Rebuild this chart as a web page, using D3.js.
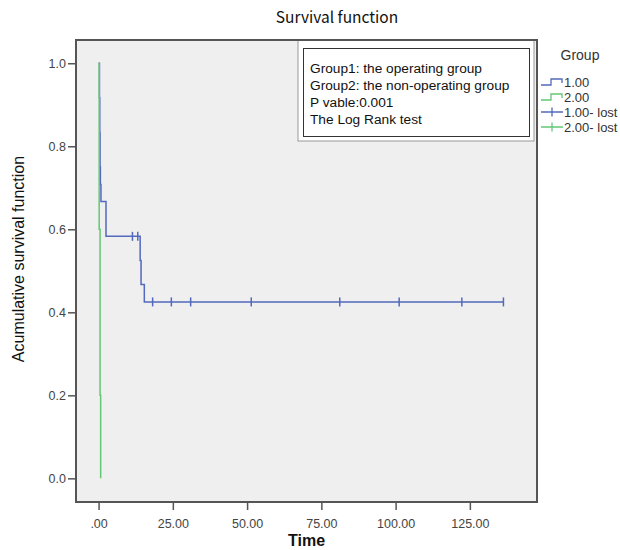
<!DOCTYPE html>
<meta charset="utf-8">
<head>
<script src="https://d3js.org/d3.v7.min.js"></script>
</head>
<style>
    html, body { margin: 0; background: white; }
    text { font-family: "Liberation Sans", Arial, sans-serif; fill: #333; }
    .title { font-family: "Noto Sans CJK SC", "Noto Sans", sans-serif; font-size: 15.5px; fill: #111; }
    .axis-title { font-size: 16px; fill: #111; }
    .tick-label { font-size: 12.5px; fill: #444; }
    .note { font-size: 13.7px; fill: #111; }
    .legend-text { font-size: 13px; fill: #333; }
</style>
<body>
<div id="chart"></div>
<script>
// group 1 (operating) survival steps
var group1Times = [0, 0.3, 0.4, 0.5, 0.6, 0.8, 2.5, 14.0, 14.3, 15.4, 136.3];
var group1Surv  = [1.0, 0.917, 0.833, 0.75, 0.708, 0.667, 0.583, 0.525, 0.467, 0.425, 0.425];
// group 1 censored ("lost") times
var group1Lost  = [11.4, 13.2, 18.2, 24.5, 31.0, 51.4, 81.2, 101.2, 122.3, 136.3];

// group 2 (non-operating) survival steps
var group2Times = [0, 0.2, 0.5, 0.7];
var group2Surv  = [1.0, 0.6, 0.2, 0.0];

var xTicks = [0, 25, 50, 75, 100, 125];
var xTickLabels = [".00", "25.00", "50.00", "75.00", "100.00", "125.00"];
var yTicks = [0, 0.2, 0.4, 0.6, 0.8, 1.0];
var yTickLabels = ["0.0", "0.2", "0.4", "0.6", "0.8", "1.0"];

var noteLines = ["Group1: the operating group", "Group2: the non-operating group", "P vable:0.001", "The Log Rank test"];
var legendLabels = ["1.00", "2.00", "1.00- lost", "2.00- lost"];

var blue = "#5369bd", green = "#63c874";

var margin = {top: 40, left: 76},
    width = 461,
    height = 462;

var svg = d3.select("#chart").append("svg")
    .attr("width", 620)
    .attr("height", 550);

var x = d3.scaleLinear().domain([-7.6, 147.6]).range([0, width]);
var y = d3.scaleLinear().domain([-0.057, 1.056]).range([height, 0]);

svg.append("text")
    .attr("class", "title")
    .attr("x", 337)
    .attr("y", 23)
    .attr("text-anchor", "middle")
    .text("Survival function");

var g = svg.append("g")
    .attr("transform", "translate(" + margin.left + "," + margin.top + ")");

g.append("rect")
    .attr("width", width)
    .attr("height", height)
    .attr("fill", "#efefef");

// axes
var xAxis = g.append("g")
    .attr("transform", "translate(0," + height + ")")
    .call(d3.axisBottom(x).tickValues(xTicks).tickSize(8).tickFormat(function(d, i) { return xTickLabels[i]; }));
var yAxis = g.append("g")
    .call(d3.axisLeft(y).tickValues(yTicks).tickSize(8).tickFormat(function(d, i) { return yTickLabels[i]; }));

[xAxis, yAxis].forEach(function(a) {
    a.select(".domain").remove();
    a.selectAll(".tick line").attr("stroke", "#555").attr("stroke-width", 1.5);
    a.selectAll(".tick text").attr("class", "tick-label").attr("fill", null);
    a.attr("font-size", null).attr("font-family", null);
});
xAxis.selectAll(".tick text").attr("dy", "1.2em");
yAxis.selectAll(".tick text").attr("x", -10);

// annotation box
g.append("rect")
    .attr("x", 222).attr("y", 0).attr("width", 236).attr("height", 101)
    .attr("fill", "white").attr("stroke", "#999");
g.append("rect")
    .attr("x", 227.5).attr("y", 8.5).attr("width", 226).attr("height", 88)
    .attr("fill", "white").attr("stroke", "#333");
g.selectAll(".note")
    .data(noteLines)
    .enter().append("text")
    .attr("class", "note")
    .attr("x", 234)
    .attr("y", function(d, i) { return 33 + i * 17; })
    .text(function(d) { return d; });

// survival curves
var line = d3.line()
    .curve(d3.curveStepAfter)
    .x(function(d) { return x(d[0]); })
    .y(function(d) { return y(d[1]); });

g.append("path")
    .datum(d3.zip(group1Times, group1Surv))
    .attr("fill", "none").attr("stroke", blue).attr("stroke-width", 1.5)
    .attr("d", line);
g.append("path")
    .datum(d3.zip(group2Times, group2Surv))
    .attr("fill", "none").attr("stroke", green).attr("stroke-width", 1.5)
    .attr("d", line);

// censor marks
function survAt(t) {
    var i = d3.bisectRight(group1Times, t) - 1;
    return group1Surv[Math.max(i, 0)];
}
g.selectAll(".lost")
    .data(group1Lost)
    .enter().append("line")
    .attr("class", "lost")
    .attr("x1", function(d) { return x(d); })
    .attr("x2", function(d) { return x(d); })
    .attr("y1", function(d) { return y(survAt(d)) - 4.5; })
    .attr("y2", function(d) { return y(survAt(d)) + 4.5; })
    .attr("stroke", blue).attr("stroke-width", 1.5);

// frame
g.append("rect")
    .attr("width", width)
    .attr("height", height)
    .attr("fill", "none")
    .attr("stroke", "#555")
    .attr("stroke-width", 2);

// axis titles
svg.append("text")
    .attr("class", "axis-title")
    .attr("transform", "translate(24,259) rotate(-90)")
    .attr("text-anchor", "middle")
    .text("Acumulative survival function");
svg.append("text")
    .attr("class", "axis-title")
    .attr("x", margin.left + width / 2)
    .attr("y", 546)
    .attr("text-anchor", "middle")
    .style("font-weight", "bold")
    .text("Time");

// legend
var legend = svg.append("g").attr("transform", "translate(541,0)");
legend.append("text")
    .attr("class", "legend-text")
    .attr("x", 39).attr("y", 60)
    .attr("text-anchor", "middle")
    .style("font-size", "14px")
    .text("Group");
var legendColors = [blue, green, blue, green];
legendLabels.forEach(function(lab, i) {
    var ly = 82 + i * 15;
    if (i < 2) {
        legend.append("path")
            .attr("d", "M0," + (ly + 3) + "H10V" + (ly - 3) + "H21V" + (ly + 1))
            .attr("fill", "none").attr("stroke", legendColors[i]).attr("stroke-width", 1.3);
    } else {
        legend.append("path")
            .attr("d", "M0," + ly + "H22M11," + (ly - 4.5) + "V" + (ly + 4.5))
            .attr("fill", "none").attr("stroke", legendColors[i]).attr("stroke-width", 1.3);
    }
    legend.append("text")
        .attr("class", "legend-text")
        .attr("x", 23).attr("y", ly + 5)
        .text(lab);
});
</script>
</body>
